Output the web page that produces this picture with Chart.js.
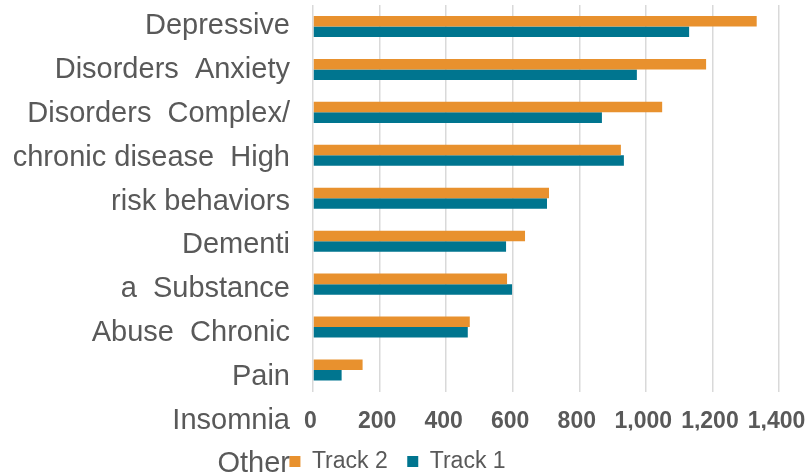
<!DOCTYPE html>
<html>
<head>
<meta charset="utf-8">
<script src="https://cdn.jsdelivr.net/npm/chart.js@4"></script>
<style>
  html, body { margin: 0; padding: 0; background: #fff; }
  #wrap { width: 807px; height: 476px; }
</style>
</head>
<body>
<div id="wrap"><canvas id="chart"></canvas></div>
<script>
// categories, top to bottom
const categories = [
  "Depressive Disorders", "Anxiety Disorders", "Complex/chronic disease",
  "High risk behaviors", "Dementia", "Substance Abuse", "Chronic Pain",
  "Insomnia", "Other"
];
// the axis text as it is wrapped in the picture (one line per row)
const labelLines = [
  "Depressive", "Disorders  Anxiety", "Disorders  Complex/",
  "chronic disease  High", "risk behaviors", "Dementi", "a  Substance",
  "Abuse  Chronic", "Pain", "Insomnia", "Other"
];
const track2 = [1333, 1181, 1049, 925, 709, 637, 583, 471, 149];
const track1 = [1130, 973, 868, 934, 703, 580, 598, 465, 86];
const xTicks = [0, 200, 400, 600, 800, 1000, 1200, 1400];

const FONT = "'Liberation Sans', Arial, sans-serif";
const GREY = "#595959";

// y labels are drawn as one text block, lines a bit further apart than the bars
const labelBlock = {
  id: "labelBlock",
  afterDraw(chart) {
    const ctx = chart.ctx;
    const y = chart.scales.y;
    const x0 = chart.chartArea.left - 23;
    const top = y.getPixelForValue(0);
    const step = 43.8;
    ctx.save();
    ctx.font = "29px " + FONT;
    ctx.fillStyle = GREY;
    ctx.textAlign = "right";
    ctx.textBaseline = "middle";
    labelLines.forEach((t, i) => ctx.fillText(t, x0, top + i * step));
    ctx.restore();
  }
};

new Chart(document.getElementById("chart"), {
  type: "bar",
  data: {
    labels: categories,
    datasets: [
      { label: "Track 2", data: track2, backgroundColor: "#E8912E" },
      { label: "Track 1", data: track1, backgroundColor: "#00758F" }
    ]
  },
  options: {
    indexAxis: "y",
    responsive: true,
    maintainAspectRatio: false,
    animation: false,
    layout: { padding: { top: 5, right: 28, left: 16, bottom: -7 } },
    datasets: { bar: { barPercentage: 1, categoryPercentage: 0.49 } },
    scales: {
      x: {
        min: 0,
        max: 1400,
        afterBuildTicks: s => { s.ticks = xTicks.map(v => ({ value: v })); },
        grid: { color: "#d9d9d9", lineWidth: 1.5, drawTicks: false },
        border: { display: false },
        ticks: {
          color: GREY,
          font: { family: FONT, size: 23, weight: "bold" },
          padding: 16,
          labelOffset: -2.5,
          maxRotation: 0
        },
        afterFit: s => { s.height = 39; s.paddingLeft = 0; s.paddingRight = 0; }
      },
      y: {
        grid: { display: false, drawTicks: false },
        border: { display: false },
        ticks: { display: false },
        afterFit: s => { s.width = 297; }
      }
    },
    plugins: {
      legend: {
        position: "bottom",
        labels: {
          color: GREY,
          font: { family: FONT, size: 23 },
          boxWidth: 11,
          boxHeight: 11,
          padding: 19.5
        }
      },
      tooltip: { enabled: false }
    }
  },
  plugins: [labelBlock]
});
</script>
</body>
</html>
